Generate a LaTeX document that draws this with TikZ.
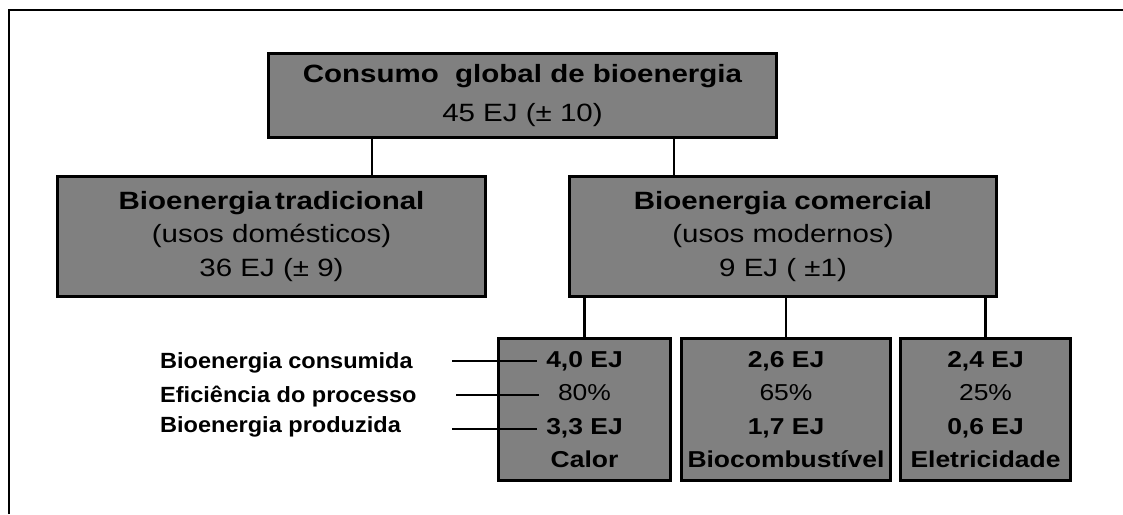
\documentclass[tikz,border=0pt]{standalone}
\usepackage{fontspec}
\setmainfont{Liberation Sans}
\newfontfamily\boxfont[FakeStretch=1.18]{Liberation Sans}
\newfontfamily\cellfont[FakeStretch=1.15]{Liberation Sans}
\newfontfamily\tagfont[FakeStretch=1.07]{Liberation Sans}
\usetikzlibrary{positioning}

\begin{document}
\begin{tikzpicture}[x=1pt, y=-1pt,
		box/.style={draw, line width=3pt, fill=gray, align=center, inner sep=0pt},
		topbox/.style={box, font=\boxfont\fontsize{25}{39}\selectfont},
		midbox/.style={box, font=\boxfont\fontsize{25}{33.5}\selectfont},
		cell/.style={box, font=\cellfont\fontsize{23}{33.3}\selectfont},
		tag/.style={anchor=base west, inner sep=0pt, font=\tagfont\bfseries\fontsize{22}{26}\selectfont},
		link/.style={line width=2.2pt},
		tick/.style={line width=1.3pt}]
	\useasboundingbox (0, 0) rectangle (1123, 514);
	\draw[line width=2pt] (9, 514) |- (1123, 10);

		\node[topbox, minimum width=508, minimum height=84] at (522.5, 95.5) (b_0)
			{\textbf{Consumo\ \ global de bioenergia}\\45 EJ (± 10)};
		\node[midbox, minimum width=428, minimum height=120] at (271.5, 236.5) (b_1_1)
			{\textbf{Bioenergia\,tradicional}\\(usos domésticos)\\36 EJ (± 9)};
		\node[midbox, minimum width=427, minimum height=120] at (783, 236.5) (b_1_2)
			{\textbf{Bioenergia comercial}\\(usos modernos)\\9 EJ ( ±1)};
		\coordinate (j_1) at (372, 0);
		\coordinate (j_2) at (674, 0);
		\draw[link] (b_0.south -| j_1) -- (b_1_1.north -| j_1);
		\draw[link] (b_0.south -| j_2) -- (b_1_2.north -| j_2);

		\node[cell, minimum width=172, minimum height=142] at (584.5, 409.5) (b_2_1)
			{\textbf{4,0 EJ}\\80\%\\\textbf{3,3 EJ}\\\textbf{Calor}};
		\node[cell, minimum width=209, minimum height=142] at (786, 409.5) (b_2_2)
			{\textbf{2,6 EJ}\\65\%\\\textbf{1,7 EJ}\\\textbf{Biocombustível}};
		\node[cell, minimum width=170, minimum height=142] at (985.5, 409.5) (b_2_3)
			{\textbf{2,4 EJ}\\25\%\\\textbf{0,6 EJ}\\\textbf{Eletricidade}};
		\draw[link] (b_1_2.south -| b_2_1.north) -- (b_2_1.north);
		\draw[link] (b_1_2.south -| b_2_2.north) -- (b_2_2.north);
		\draw[link] (b_1_2.south -| b_2_3.north) -- (b_2_3.north);

		\node[tag] at (160, 368) (t_1) {Bioenergia consumida};
		\node[tag] at (160, 402) (t_2) {Eficiência do processo};
		\node[tag] at (160, 432) (t_3) {Bioenergia produzida};
		\coordinate (t_1_a) at (452, 361);
		\coordinate (t_1_b) at (537, 361);
		\coordinate (t_2_a) at (456, 395);
		\coordinate (t_2_b) at (539, 395);
		\coordinate (t_3_a) at (452, 429);
		\coordinate (t_3_b) at (537, 429);
		\draw[tick] (t_1_a) -- (t_1_b);
		\draw[tick] (t_2_a) -- (t_2_b);
		\draw[tick] (t_3_a) -- (t_3_b);
	\end{tikzpicture}
\end{document}
